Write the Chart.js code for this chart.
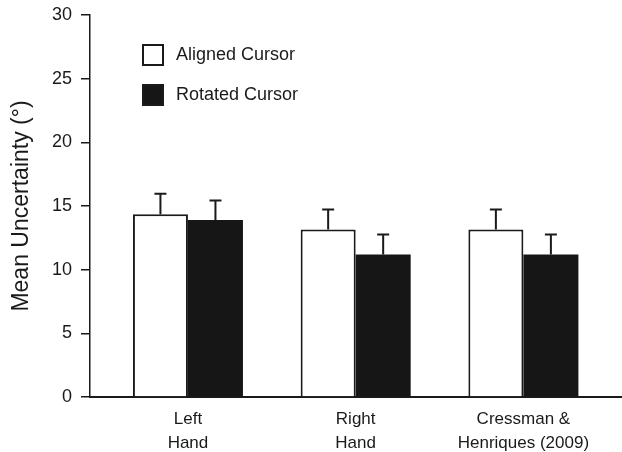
<!DOCTYPE html>
<html>
<head>
<meta charset="utf-8">
<script src="https://cdn.jsdelivr.net/npm/chart.js@4.4.1/dist/chart.umd.min.js"></script>
<style>
  html, body { margin: 0; padding: 0; background: #fff; }
  #wrap { width: 622px; height: 452px; position: relative; }
</style>
</head>
<body>
<div id="wrap"><canvas id="chart"></canvas></div>
<script>
// data
const categories = [["Left", "Hand"], ["Right", "Hand"], ["Cressman &", "Henriques (2009)"]];
const alignedMean = [14.35, 13.15, 13.15];
const alignedErr = [1.62, 1.57, 1.57];
const rotatedMean = [13.9, 11.2, 11.2];
const rotatedErr = [1.53, 1.57, 1.57];
const yTicks = [0, 5, 10, 15, 20, 25, 30];

const ink = "#1a1a1a";
const fontFamily = "'Liberation Sans', Arial, Helvetica, sans-serif";

// error bars drawn on top of each bar, through the y scale
const errorBars = {
  id: "errorBars",
  afterDatasetsDraw(chart) {
    const ctx = chart.ctx;
    const yScale = chart.scales.y;
    chart.data.datasets.forEach((ds, di) => {
      const meta = chart.getDatasetMeta(di);
      meta.data.forEach((bar, i) => {
        const top = yScale.getPixelForValue(ds.data[i].y + ds.errors[i]);
        ctx.save();
        ctx.strokeStyle = ink;
        ctx.lineWidth = 2;
        ctx.beginPath();
        ctx.moveTo(bar.x, bar.y);
        ctx.lineTo(bar.x, top);
        ctx.moveTo(bar.x - 6, top);
        ctx.lineTo(bar.x + 6, top);
        ctx.stroke();
        ctx.restore();
      });
    });
  }
};

// legend inside the plot, top left
const boxLegend = {
  id: "boxLegend",
  afterDraw(chart) {
    const ctx = chart.ctx;
    const area = chart.chartArea;
    chart.data.datasets.forEach((ds, i) => {
      const x = area.left + 52;
      const y = area.top + 29 + i * 40;
      ctx.save();
      ctx.fillStyle = ds.backgroundColor;
      ctx.fillRect(x, y, 22, 22);
      ctx.strokeStyle = ink;
      ctx.lineWidth = 2;
      ctx.strokeRect(x + 1, y + 1, 20, 20);
      ctx.fillStyle = ink;
      ctx.font = "18px " + fontFamily;
      ctx.textBaseline = "middle";
      ctx.fillText(ds.label, x + 34, y + 11);
      ctx.restore();
    });
  }
};

const ctx = document.getElementById("chart").getContext("2d");

new Chart(ctx, {
  type: "bar",
  data: {
    datasets: [
      {
        label: "Aligned Cursor",
        data: alignedMean.map((v, i) => ({ x: i, y: v })),
        errors: alignedErr,
        backgroundColor: "#ffffff",
        borderColor: ink,
        borderWidth: 2
      },
      {
        label: "Rotated Cursor",
        data: rotatedMean.map((v, i) => ({ x: i, y: v })),
        errors: rotatedErr,
        backgroundColor: "#161616",
        borderColor: "#161616",
        borderWidth: 0
      }
    ]
  },
  options: {
    responsive: true,
    maintainAspectRatio: false,
    animation: false,
    categoryPercentage: 0.656,
    barPercentage: 1.0,
    layout: { padding: { top: 15, right: 0, bottom: 0, left: 0 } },
    plugins: {
      legend: { display: false },
      tooltip: { enabled: false }
    },
    scales: {
      x: {
        type: "linear",
        offset: false,
        min: -0.584,
        max: 2.588,
        afterBuildTicks: (scale) => {
          scale.ticks = categories.map((c, i) => ({ value: i }));
        },
        afterFit: (scale) => { scale.height = 55; },
        grid: { display: false, drawTicks: false },
        border: { display: true, color: ink, width: 2 },
        ticks: {
          autoSkip: false,
          maxRotation: 0,
          padding: 10,
          color: ink,
          font: { family: fontFamily, size: 17, lineHeight: 1.41 },
          callback: (value) => categories[value]
        }
      },
      y: {
        min: 0,
        max: 30,
        afterBuildTicks: (scale) => {
          scale.ticks = yTicks.map(v => ({ value: v }));
        },
        afterFit: (scale) => { scale.width = 90; },
        grid: {
          display: true,
          drawOnChartArea: false,
          drawTicks: true,
          tickLength: 9,
          color: ink,
          lineWidth: 1.5
        },
        border: { display: true, color: ink, width: 1.5 },
        ticks: {
          padding: 9,
          color: ink,
          font: { family: fontFamily, size: 18, lineHeight: 0.6 }
        },
        title: {
          display: true,
          text: "Mean Uncertainty (°)",
          color: ink,
          padding: { top: 8, bottom: 0 },
          font: { family: fontFamily, size: 23 }
        }
      }
    }
  },
  plugins: [errorBars, boxLegend]
});
</script>
</body>
</html>
